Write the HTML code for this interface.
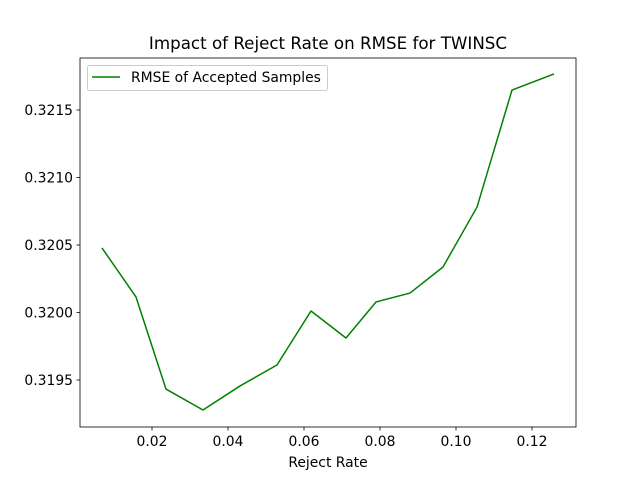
<!DOCTYPE html>
<html><head><meta charset="utf-8"><style>
body{margin:0;background:#fff}
svg{display:block;font-family:"DejaVu Sans","Liberation Sans",sans-serif}
</style></head><body>
<svg id="c" width="640" height="480" viewBox="0 0 640 480">
<rect width="640" height="480" fill="#fff"/>
<text x="328" y="49" font-size="16.7" text-anchor="middle">Impact of Reject Rate on RMSE for TWINSC</text>
<g id="ticks"></g>
<polyline id="line" fill="none" stroke="#008000" stroke-width="1.5" stroke-linejoin="round"/>
<rect x="80" y="58" width="496" height="369" fill="none" stroke="#000" stroke-width="0.8"/>
<text x="328" y="467" font-size="13.9" text-anchor="middle">Reject Rate</text>
<g>
<rect x="87.5" y="65.5" width="240" height="25" rx="2" fill="#fff" fill-opacity="0.8" stroke="#ccc"/>
<line x1="92" y1="77" x2="120" y2="77" stroke="#008000" stroke-width="1.5"/>
<text x="131" y="82" font-size="13.9">RMSE of Accepted Samples</text>
</g>
</svg>
<script>
const rejectRates=[0.00684,0.01579,0.02368,0.03342,0.04316,0.05289,0.06184,0.07105,0.07895,0.08789,0.09658,0.10553,0.11474,0.12579];
const rmseValues=[0.320478,0.320115,0.319433,0.319278,0.319456,0.319611,0.320011,0.319811,0.320078,0.320144,0.320337,0.320781,0.321648,0.321767];
const xTicks=[0.02,0.04,0.06,0.08,0.10,0.12];
const xTickLabels=["0.02","0.04","0.06","0.08","0.10","0.12"];
const yTicks=[0.3195,0.3200,0.3205,0.3210,0.3215];
const yTickLabels=["0.3195","0.3200","0.3205","0.3210","0.3215"];
const X=v=>152+(v-0.02)*3800;
const Y=v=>380-(v-0.3195)*135000;
const NS="http://www.w3.org/2000/svg";
const g=document.getElementById('ticks');
function mk(t,a){const e=document.createElementNS(NS,t);for(const k in a)e.setAttribute(k,a[k]);return e;}
xTicks.forEach((v,i)=>{
 const l=mk('line',{x1:X(v),x2:X(v),y1:427,y2:430.5,stroke:'#000','stroke-width':0.8});
 
 
 g.appendChild(l);
 const t=mk('text',{x:X(v),y:446,'font-size':13.9,'text-anchor':'middle'});
 t.textContent=xTickLabels[i];
 
 
 g.appendChild(t);
});
yTicks.forEach((v,i)=>{
 const l=mk('line',{x1:76.5,x2:80,y1:Y(v),y2:Y(v),stroke:'#000','stroke-width':0.8});
 
 
 g.appendChild(l);
 const t=mk('text',{x:73,y:Y(v)+5,'font-size':13.9,'text-anchor':'end'});
 t.textContent=yTickLabels[i];
 
 
 g.appendChild(t);
});
document.getElementById('line').setAttribute('points',rejectRates.map((r,i)=>X(r)+','+Y(rmseValues[i])).join(' '));
</script>
</body></html>
